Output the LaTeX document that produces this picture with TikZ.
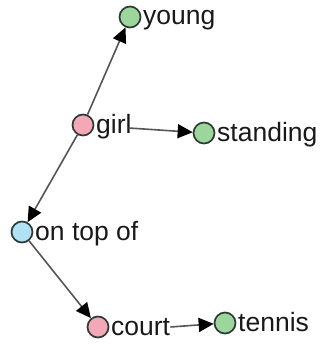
\documentclass[tikz,border=0pt]{standalone}
\usepackage{fontspec}
\setmainfont{Liberation Sans}
\usetikzlibrary{arrows.meta}
\definecolor{attrgreen}{HTML}{9DD69D}
\definecolor{objpink}{HTML}{F4A7B6}
\definecolor{relblue}{HTML}{AEE2F4}
\definecolor{ringgray}{HTML}{2E3A34}
\definecolor{edgegray}{HTML}{555555}
\tikzset{
  vertex/.style={circle, draw=ringgray, line width=1.7pt, minimum size=21pt, inner sep=0pt},
  attr/.style={vertex, fill=attrgreen},
  obj/.style={vertex, fill=objpink},
  rel/.style={vertex, fill=relblue},
  word/.style={anchor=base west, inner sep=0pt, font=\fontsize{26.5}{30}\selectfont, text=black!90},
  link/.style={draw=edgegray, line width=1.6pt, -{Triangle[length=15pt,width=14pt,color=black]}}
}
\begin{document}
\begin{tikzpicture}[x=1pt,y=-1pt]
\useasboundingbox (0,0) rectangle (321,345);
% circles
\node[attr] (young) at (130,17) {};
\node[obj] (girl) at (83,125) {};
\node[attr] (standing) at (204,133) {};
\node[rel] (ontop) at (22,232) {};
\node[obj] (court) at (98,327) {};
\node[attr] (tennis) at (225,323) {};
% labels
\node[word] (youngL) at (143,25) {young};
\node[word] (girlL) at (96,133) {girl};
\node[word] (standingL) at (217,141) {standing};
\node[word] (ontopL) at (35,240) {on top of};
\node[word] (courtL) at (111,335) {court};
\node[word] (tennisL) at (238,331) {tennis};
% edges
\draw[link] (girl) -- (young);
\draw[link] (girl) -- (ontop);
\draw[link] (ontop) -- (court);
\draw[link] ([xshift=-3pt]girlL.east |- girl) ++(0,3) coordinate (g0) -- (standing);
\draw[link] (courtL.east |- court) -- (tennis);
\end{tikzpicture}
\end{document}
